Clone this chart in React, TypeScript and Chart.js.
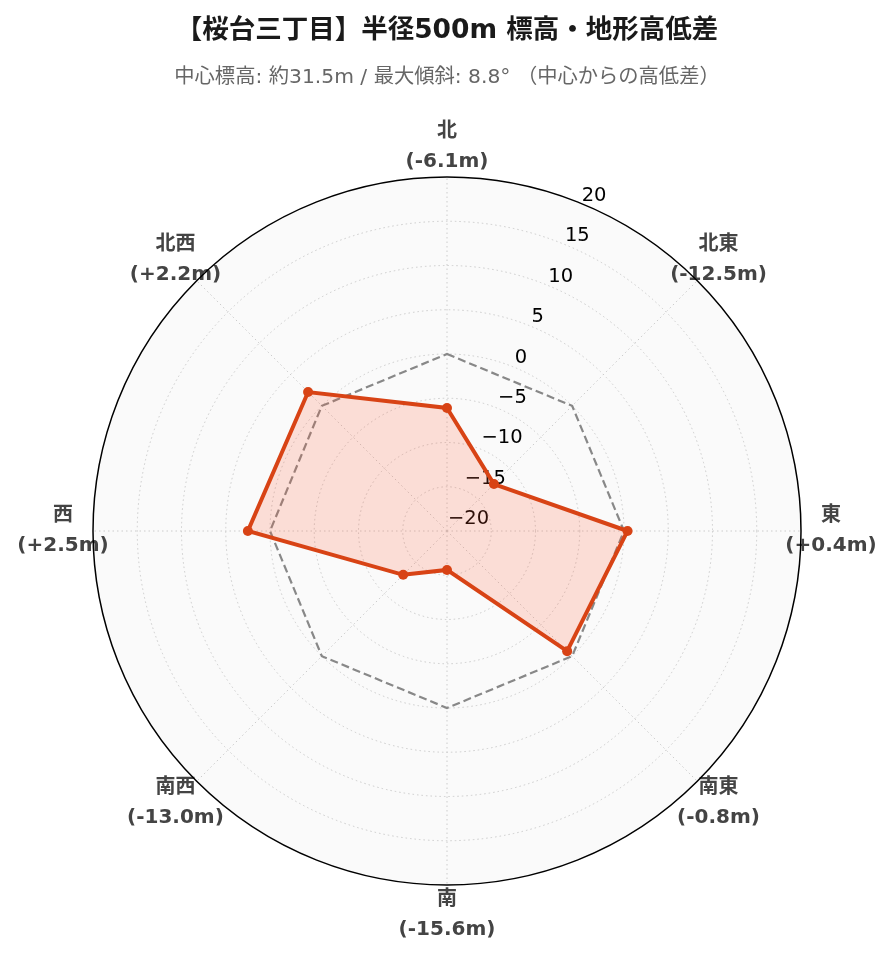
import React, { useEffect, useRef } from "react";
import { Chart, registerables } from "chart.js";

Chart.register(...registerables);

// ---- data ----
const directions = ["北", "北東", "東", "南東", "南", "南西", "西", "北西"];
const elevationDiffs = [-6.1, -12.5, 0.4, -0.8, -15.6, -13.0, 2.5, 2.2];
const zeroLine = [0, 0, 0, 0, 0, 0, 0, 0];
const radialTicks = [-20, -15, -10, -5, 0, 5, 10, 15, 20];
const rMin = -20;
const rMax = 20;
const titleText = "【桜台三丁目】半径500m 標高・地形高低差";
const subtitleText = "中心標高: 約31.5m / 最大傾斜: 8.8° （中心からの高低差）";

const FONT = "'DejaVu Sans', 'Noto Sans CJK JP', sans-serif";

const fmtDiff = (v: number) => `(${v >= 0 ? "+" : "-"}${Math.abs(v).toFixed(1)}m)`;
const fmtTick = (v: number) => (v < 0 ? "\u2212" + Math.abs(v) : String(v));

const polarDecor = {
  id: "polarDecor",
  beforeDatasetsDraw(chart: any) {
    const s = chart.scales.r;
    const ctx = chart.ctx;
    const cx = s.xCenter;
    const cy = s.yCenter;
    const R = s.drawingArea;
    ctx.save();
    // radial tick labels along the 22.5° axis
    ctx.font = `19.5px ${FONT}`;
    ctx.fillStyle = "#000";
    ctx.textAlign = "left";
    ctx.textBaseline = "middle";
    radialTicks.forEach((v) => {
      const r = s.getDistanceFromCenterForValue(v);
      ctx.fillText(fmtTick(v), cx + 1 + r * 0.3775, cy - 12 - r * 0.9127);
    });
    // direction labels
    ctx.font = `bold 20px ${FONT}`;
    ctx.fillStyle = "#444";
    ctx.textAlign = "center";
    directions.forEach((d, i) => {
      const a = -Math.PI / 2 + (i * 2 * Math.PI) / directions.length;
      const x = cx + Math.cos(a) * (R + 30);
      const y = cy + Math.sin(a) * (R + 30);
      ctx.fillText(d, x, y - 15);
      ctx.fillText(fmtDiff(elevationDiffs[i]), x, y + 15);
    });
    ctx.restore();
  },
  afterDraw(chart: any) {
    const s = chart.scales.r;
    const ctx = chart.ctx;
    ctx.save();
    ctx.beginPath();
    ctx.arc(s.xCenter, s.yCenter, s.drawingArea, 0, Math.PI * 2);
    ctx.strokeStyle = "#000";
    ctx.lineWidth = 1.5;
    ctx.stroke();
    ctx.restore();
  },
};

export default function App() {
  const ref = useRef<HTMLCanvasElement>(null);
  useEffect(() => {
    if (!ref.current) return;
    Chart.defaults.font.family = FONT;
    const chart = new Chart(ref.current, {
      type: "radar",
      data: {
        labels: directions,
        datasets: [
          {
            label: "高低差",
            data: elevationDiffs,
            borderColor: "#D84315",
            backgroundColor: "rgba(255,90,50,0.18)",
            fill: "start",
            borderWidth: 4,
            pointRadius: 5,
            pointBackgroundColor: "#D84315",
            pointBorderColor: "#D84315",
            pointBorderWidth: 0,
            order: 0,
          },
          {
            label: "基準",
            data: zeroLine,
            borderColor: "#888888",
            borderDash: [8, 4],
            borderWidth: 2.2,
            fill: false,
            pointRadius: 0,
            order: 1,
          },
        ],
      },
      plugins: [polarDecor],
      options: {
        responsive: false,
        animation: false,
        layout: { padding: { left: 92, right: 91, top: 0, bottom: 76 } },
        elements: { line: { tension: 0 } },
        plugins: {
          legend: { display: false },
          tooltip: { enabled: false },
          title: {
            display: true,
            text: titleText,
            color: "#1a1a1a",
            font: { size: 26.5, weight: "bold", family: FONT },
            padding: { top: 15, bottom: 10 },
          },
          subtitle: {
            display: true,
            text: subtitleText,
            color: "#666",
            font: { size: 20.3, weight: "normal", family: FONT },
            padding: { top: 8.5, bottom: 87.5 },
          },
        },
        scales: {
          r: {
            min: rMin,
            max: rMax,
            backgroundColor: "#fafafa",
            afterBuildTicks: (scale: any) => {
              scale.ticks = radialTicks.map((v) => ({ value: v }));
            },
            ticks: { display: false, stepSize: 5 },
            pointLabels: { display: false },
            grid: {
              circular: true,
              color: (c: any) => (c.tick && c.tick.value === rMax ? "rgba(0,0,0,0)" : "#cccccc"),
              lineWidth: 1,
            },
            border: { dash: [1.5, 3] },
            angleLines: { color: "#cccccc", lineWidth: 1, borderDash: [1.5, 3] },
          },
        },
      },
    } as any);
    return () => chart.destroy();
  }, []);
  return (
    <div style={{ position: "fixed", left: 0, top: 0, width: 893, height: 962, background: "#fff" }}>
      <canvas ref={ref} width={893} height={962} style={{ display: "block" }} />
    </div>
  );
}
